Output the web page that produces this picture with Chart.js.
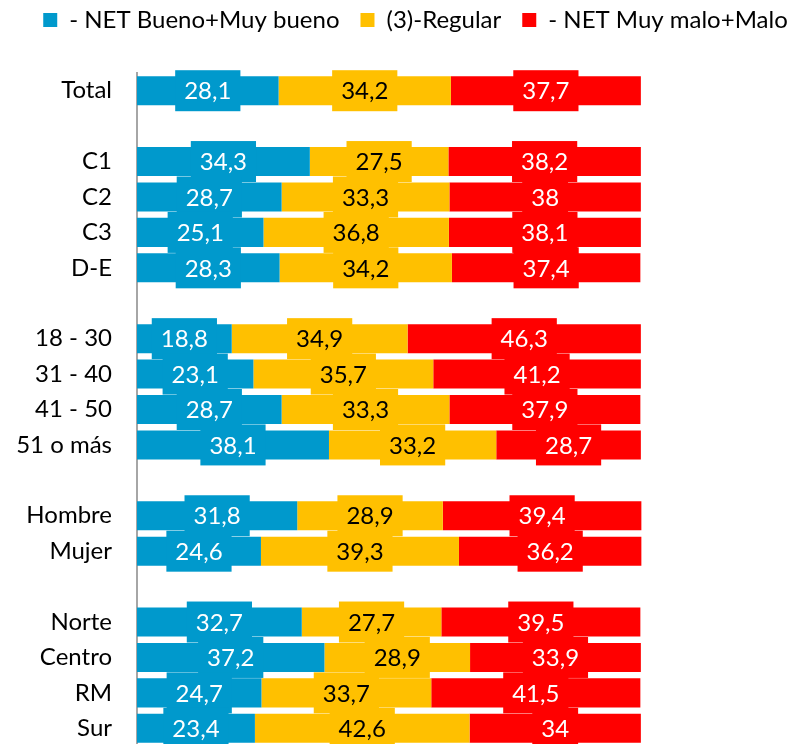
<!DOCTYPE html>
<html>
<head>
<meta charset="utf-8">
<script src="https://cdn.jsdelivr.net/npm/chart.js@4.4.1/dist/chart.umd.min.js"></script>
<style>
    body { margin: 0; background: #fff; }
    #caja { width: 789px; height: 744px; overflow: hidden; }
</style>
</head>
<body>
<div id="caja">
    <canvas id="grafico" width="789" height="746"></canvas>
</div>
<script>
const categorias = ["Total", "", "C1", "C2", "C3", "D-E", "", "18 - 30", "31 - 40", "41 - 50", "51 o más", "", "Hombre", "Mujer", "", "Norte", "Centro", "RM", "Sur"]

const bueno   = [28.1, null, 34.3, 28.7, 25.1, 28.3, null, 18.8, 23.1, 28.7, 38.1, null, 31.8, 24.6, null, 32.7, 37.2, 24.7, 23.4]
const regular = [34.2, null, 27.5, 33.3, 36.8, 34.2, null, 34.9, 35.7, 33.3, 33.2, null, 28.9, 39.3, null, 27.7, 28.9, 33.7, 42.6]
const malo    = [37.7, null, 38.2, 38, 38.1, 37.4, null, 46.3, 41.2, 37.9, 28.7, null, 39.4, 36.2, null, 39.5, 33.9, 41.5, 34]

const nombres = ["- NET Bueno+Muy bueno", "(3)-Regular", "- NET Muy malo+Malo"]
const colores = ["#0099CC", "#FFC000", "#FF0000"]
const coloresTexto = ["#FFFFFF", "#000000", "#FFFFFF"]

const fuente = "Lato, 'Open Sans', sans-serif"

// etiquetas con caja del mismo color
const etiquetas = {
    id: "etiquetas",
    afterDatasetsDraw(chart) {
        const ctx = chart.ctx
        ctx.save()
        ctx.font = "24px " + fuente
        ctx.textAlign = "center"
        ctx.textBaseline = "middle"
        chart.data.datasets.forEach((ds, i) => {
            const meta = chart.getDatasetMeta(i)
            meta.data.forEach((bar, j) => {
                const v = ds.data[j]
                if (v == null) return
                const p = bar.getProps(["x", "y", "base"], true)
                const cx = (p.x + p.base) / 2
                const txt = String(v).replace(".", ",")
                const w = ctx.measureText(txt).width
                ctx.fillStyle = colores[i]
                ctx.fillRect(cx - w / 2 - 9, p.y - 20.5, w + 18, 41)
                ctx.fillStyle = coloresTexto[i]
                ctx.fillText(txt, cx, p.y + 1)
            })
        })
        ctx.restore()
    }
}

// mover la leyenda (arriba y a la derecha)
const ajusteLeyenda = {
    id: "ajusteLeyenda",
    afterLayout(chart) {
        chart.legend.top -= 13
        chart.legend.bottom -= 13
        chart.legend.left += 21
        chart.legend.right += 21
    }
}

new Chart(document.getElementById("grafico"), {
    type: "bar",
    data: {
        labels: categorias,
        datasets: [
            { label: nombres[0], data: bueno, backgroundColor: colores[0] },
            { label: nombres[1], data: regular, backgroundColor: colores[1] },
            { label: nombres[2], data: malo, backgroundColor: colores[2] }
        ]
    },
    options: {
        indexAxis: "y",
        responsive: false,
        animation: false,
        barPercentage: 0.82,
        categoryPercentage: 1,
        layout: { padding: 0 },
        scales: {
            x: {
                stacked: true,
                position: "top",
                min: 0,
                max: 129.4,
                ticks: { display: false },
                grid: { display: false },
                border: { display: false },
                afterFit: s => { s.height = 18 }
            },
            y: {
                stacked: true,
                grid: { display: false, drawTicks: false },
                border: { display: true, color: "#A6A6A6", width: 2 },
                ticks: { color: "#000", padding: 25, autoSkip: false, font: { family: fuente, size: 24 } },
                afterFit: s => {
                    s.width = 137
                    s.paddingTop = 0
                    s.paddingBottom = 0
                }
            }
        },
        plugins: {
            tooltip: { enabled: false },
            legend: {
                position: "top",
                labels: {
                    color: "#000",
                    boxWidth: 14,
                    boxHeight: 14,
                    padding: 21,
                    font: { family: fuente, size: 24 }
                }
            }
        }
    },
    plugins: [etiquetas, ajusteLeyenda]
})
</script>
</body>
</html>
